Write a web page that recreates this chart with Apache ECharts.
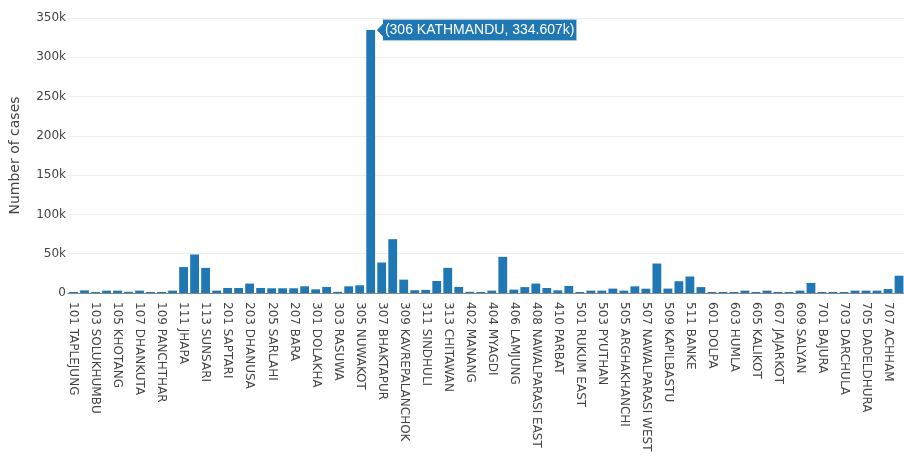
<!DOCTYPE html>
<html>
<head>
<meta charset="utf-8">
<script src="https://cdn.jsdelivr.net/npm/echarts@6/dist/echarts.min.js"></script>
<style>
html,body{margin:0;padding:0;background:#fff;overflow:hidden;width:904px;height:466px;}
#chart{width:916px;height:466px;}
</style>
</head>
<body>
<div id="chart"></div>
<script>
const districts = [
  "101 TAPLEJUNG","102 SANKHUWASABHA","103 SOLUKHUMBU","104 OKHALDHUNGA","105 KHOTANG","106 BHOJPUR","107 DHANKUTA","108 TERHATHUM","109 PANCHTHAR","110 ILAM","111 JHAPA","112 MORANG","113 SUNSARI","114 UDAYAPUR",
  "201 SAPTARI","202 SIRAHA","203 DHANUSA","204 MAHOTTARI","205 SARLAHI","206 RAUTAHAT","207 BARA","208 PARSA",
  "301 DOLAKHA","302 SINDHUPALCHOK","303 RASUWA","304 DHADING","305 NUWAKOT","306 KATHMANDU","307 BHAKTAPUR","308 LALITPUR","309 KAVREPALANCHOK","310 RAMECHHAP","311 SINDHULI","312 MAKWANPUR","313 CHITAWAN",
  "401 GORKHA","402 MANANG","403 MUSTANG","404 MYAGDI","405 KASKI","406 LAMJUNG","407 TANAHU","408 NAWALPARASI EAST","409 SYANGJA","410 PARBAT","411 BAGLUNG",
  "501 RUKUM EAST","502 ROLPA","503 PYUTHAN","504 GULMI","505 ARGHAKHANCHI","506 PALPA","507 NAWALPARASI WEST","508 RUPANDEHI","509 KAPILBASTU","510 DANG","511 BANKE","512 BARDIYA",
  "601 DOLPA","602 MUGU","603 HUMLA","604 JUMLA","605 KALIKOT","606 DAILEKH","607 JAJARKOT","608 RUKUM WEST","609 SALYAN","610 SURKHET",
  "701 BAJURA","702 BAJHANG","703 DARCHULA","704 BAITADI","705 DADELDHURA","706 DOTI","707 ACHHAM","708 KAILALI","709 KANCHANPUR"
];
const cases = [
  1300,3400,1300,3000,3000,1500,3000,1300,1300,3000,33000,49000,32000,3000,
  6400,6400,12000,6400,6000,6000,6000,8500,
  4700,7700,1500,8500,9800,334607,38800,68500,17000,3500,4000,15300,32000,
  7700,1500,1300,3000,46000,4300,7500,12000,6400,3400,9000,
  1300,3000,3000,5600,3000,8500,5500,37500,5600,15000,21000,7500,
  1300,1300,1300,3000,1300,3000,1300,1300,3000,12800,
  1300,1300,1300,3000,3000,3000,5000,22000,12000
];
const yTicks = { min: 0, max: 350000, interval: 50000 };
const highlight = { name: "306 KATHMANDU", value: 334607 };

const chart = echarts.init(document.getElementById('chart'), null, {renderer: 'canvas'});
chart.setOption({
  animation: false,
  backgroundColor: '#fff',
  grid: { left: 62, right: 0, top: 18, bottom: 173, containLabel: false },
  xAxis: {
    type: 'category',
    data: districts,
    axisTick: { show: false },
    axisLine: { show: true, lineStyle: { color: '#888', width: 1 } },
    axisLabel: {
      interval: 1,
      rotate: -90,
      margin: 9,
      padding: [8, 0, 0, 0],
      color: '#444',
      fontFamily: 'DejaVu Sans',
      fontSize: 12
    },
    splitLine: { show: false }
  },
  yAxis: {
    type: 'value',
    min: yTicks.min, max: yTicks.max, interval: yTicks.interval,
    name: 'Number of cases',
    nameLocation: 'middle',
    nameGap: 46,
    nameTextStyle: { color: '#444', fontFamily: 'DejaVu Sans', fontSize: 14 },
    axisLine: { show: false },
    axisTick: { show: false },
    axisLabel: {
      color: '#444', fontFamily: 'DejaVu Sans', fontSize: 12, margin: 2,
      formatter: v => v === 0 ? '0' : (v / 1000) + 'k'
    },
    splitLine: { lineStyle: { color: '#eee', width: 1 } }
  },
  series: [{
    type: 'bar',
    data: cases,
    barCategoryGap: '20%',
    itemStyle: { color: '#1f77b4' },
    markPoint: {
      silent: true,
      data: [{
        coord: [highlight.name, highlight.value],
        symbol: 'path://M0,10 L6,4 L6,0 L201,0 L201,20 L6,20 L6,16 Z',
        symbolSize: [201, 21],
        symbolOffset: [106, 0],
        symbolKeepAspect: false,
        itemStyle: { color: '#1f77b4', borderColor: '#fff', borderWidth: 0.5 },
        label: {
          show: true,
          position: 'inside',
          offset: [3, 0],
          color: '#fff',
          fontFamily: 'Liberation Sans',
          fontSize: 14,
          formatter: () => '(' + highlight.name + ', ' + (highlight.value / 1000).toFixed(3) + 'k)'
        }
      }]
    }
  }]
});
</script>
</body>
</html>
